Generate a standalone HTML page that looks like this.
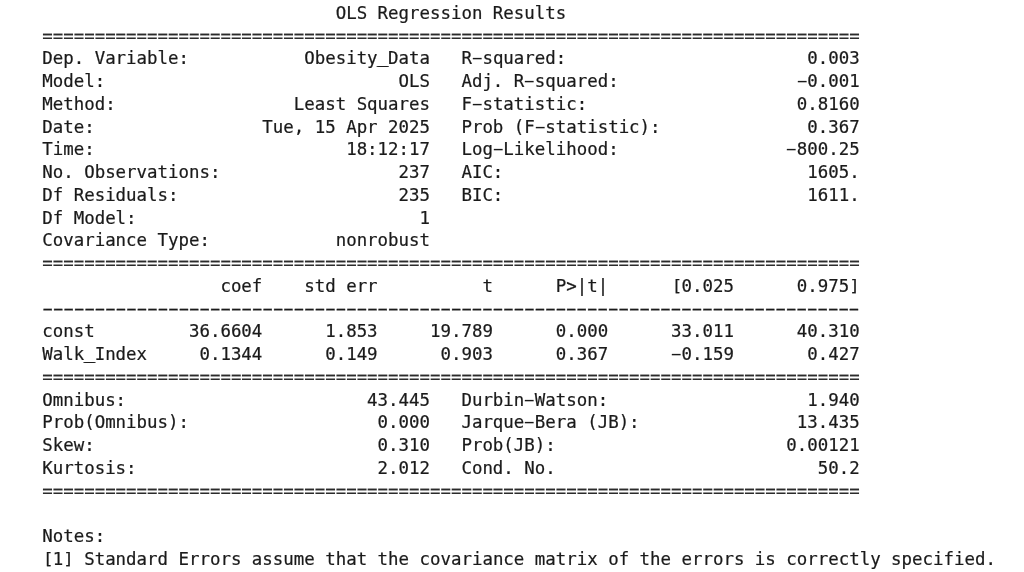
<!DOCTYPE html>
<html lang="en"><head><meta charset="utf-8"><title>OLS Regression Results</title>
<style>
html,body{margin:0;padding:0;background:#fff;}
body{width:1024px;height:572px;overflow:hidden;position:relative;}
.ln{position:absolute;left:42.25px;height:23px;line-height:23px;margin:0;padding:0;
font-family:"DejaVu Sans Mono","Liberation Mono",monospace;font-size:17.42px;
color:#1a1a1a;-webkit-text-stroke:0.22px #1a1a1a;white-space:pre;letter-spacing:0;font-variant-ligatures:none;}
.eq{color:#2a2a2a;-webkit-text-stroke:0.1px #2a2a2a;}
.dash{letter-spacing:-4.8187px;transform-origin:0 0;transform:scaleX(1.85);margin-left:-4.5px;-webkit-text-stroke:0.2px #1a1a1a;}
.h{display:inline-block;transform:scaleX(2.0);position:relative;top:-1px;-webkit-text-stroke:0;}
.u{position:relative;top:-1px;text-shadow:-1px 0 0 #1a1a1a,1px 0 0 #1a1a1a;}
.b{display:inline-block;transform:scaleY(0.94);transform-origin:50% 20%;}
.bl{transform:translateX(0.8px) scaleY(0.94);}
</style></head><body>
<div class="ln" style="top:2px">                            OLS Regression Results</div>
<div class="ln eq" style="top:25px">==============================================================================</div>
<div class="ln" style="top:47px">Dep. Variable:           Obesity<span class="u">_</span>Data   R<span class="h">-</span>squared:                       0.003</div>
<div class="ln" style="top:70px">Model:                            OLS   Adj. R<span class="h">-</span>squared:                 <span class="h">-</span>0.001</div>
<div class="ln" style="top:93px">Method:                 Least Squares   F<span class="h">-</span>statistic:                    0.8160</div>
<div class="ln" style="top:116px">Date:                Tue, 15 Apr 2025   Prob (F<span class="h">-</span>statistic):              0.367</div>
<div class="ln" style="top:138px">Time:                        18:12:17   Log<span class="h">-</span>Likelihood:                <span class="h">-</span>800.25</div>
<div class="ln" style="top:161px">No. Observations:                 237   AIC:                             1605.</div>
<div class="ln" style="top:184px">Df Residuals:                     235   BIC:                             1611.</div>
<div class="ln" style="top:207px">Df Model:                           1</div>
<div class="ln" style="top:229px">Covariance Type:            nonrobust</div>
<div class="ln eq" style="top:252px">==============================================================================</div>
<div class="ln" style="top:275px">                 coef    std err          t      P&gt;|t|      <span class="b bl">[</span>0.025      0.975<span class="b">]</span></div>
<div class="ln dash" style="top:297px">------------------------------------------------------------------------------</div>
<div class="ln" style="top:320px">const         36.6604      1.853     19.789      0.000      33.011      40.310</div>
<div class="ln" style="top:343px">Walk<span class="u">_</span>Index     0.1344      0.149      0.903      0.367      <span class="h">-</span>0.159       0.427</div>
<div class="ln eq" style="top:366px">==============================================================================</div>
<div class="ln" style="top:389px">Omnibus:                       43.445   Durbin<span class="h">-</span>Watson:                   1.940</div>
<div class="ln" style="top:411px">Prob(Omnibus):                  0.000   Jarque<span class="h">-</span>Bera (JB):               13.435</div>
<div class="ln" style="top:434px">Skew:                           0.310   Prob(JB):                      0.00121</div>
<div class="ln" style="top:457px">Kurtosis:                       2.012   Cond. No.                         50.2</div>
<div class="ln eq" style="top:480px">==============================================================================</div>
<div class="ln" style="top:525px">Notes:</div>
<div class="ln" style="top:548px"><span class="b bl">[</span>1<span class="b">]</span> Standard Errors assume that the covariance matrix of the errors is correctly specified.</div>
</body></html>
